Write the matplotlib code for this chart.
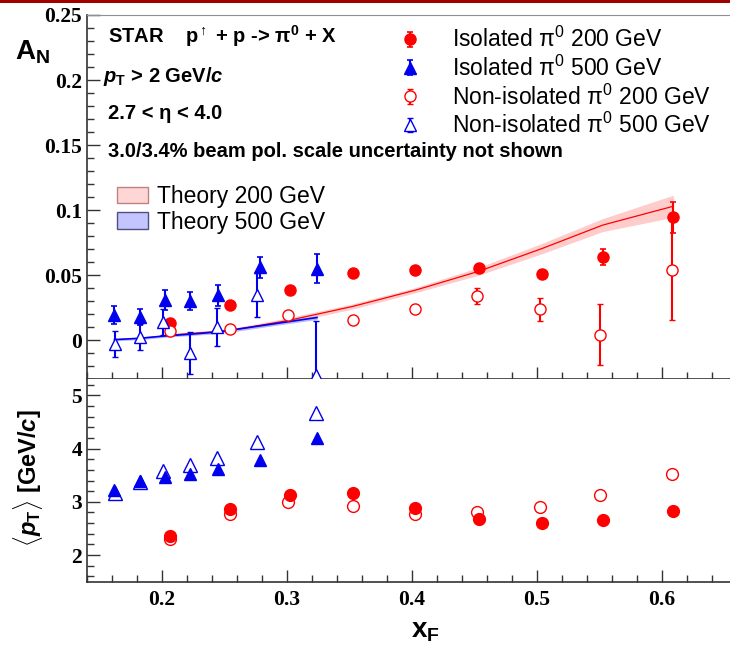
import matplotlib
matplotlib.use("Agg")
import matplotlib.pyplot as plt
from matplotlib.patches import Patch, Rectangle
from matplotlib.ticker import MultipleLocator
from matplotlib.legend_handler import HandlerErrorbar

plt.rcParams['font.family'] = ['Liberation Sans', 'DejaVu Sans']
plt.rcParams['mathtext.fontset'] = 'custom'
plt.rcParams['mathtext.rm'] = 'Liberation Sans'
plt.rcParams['mathtext.it'] = 'Liberation Sans:italic'
plt.rcParams['mathtext.bf'] = 'Liberation Sans:bold'
plt.rcParams['mathtext.bfit'] = 'Liberation Sans:bold:italic'

# ---- data ----
# A_N, isolated pi0 200 GeV
x_iso200 = [0.2066, 0.2546, 0.302, 0.3525, 0.4027, 0.4533, 0.504, 0.5525, 0.609]
an_iso200 = [0.0136, 0.027, 0.0385, 0.0518, 0.0538, 0.0556, 0.0513, 0.064, 0.0944]
an_iso200_err = [0.002, 0.002, 0.002, 0.002, 0.002, 0.003, 0.003, 0.006, 0.012]
# A_N, isolated pi0 500 GeV
x_iso500 = [0.1618, 0.182, 0.202, 0.222, 0.245, 0.278, 0.324]
an_iso500 = [0.0192, 0.018, 0.031, 0.030, 0.0346, 0.056, 0.055]
an_iso500_err = [0.007, 0.006, 0.008, 0.007, 0.008, 0.008, 0.011]
# A_N, non-isolated pi0 200 GeV
x_non200 = [0.206, 0.254, 0.301, 0.3525, 0.402, 0.452, 0.502, 0.5506, 0.608]
an_non200 = [0.0072, 0.009, 0.0192, 0.0154, 0.0244, 0.034, 0.0238, 0.0044, 0.0538]
an_non200_err = [0.002, 0.002, 0.002, 0.002, 0.002, 0.006, 0.009, 0.0235, 0.038]
# A_N, non-isolated pi0 500 GeV
x_non500 = [0.162, 0.182, 0.201, 0.222, 0.244, 0.276, 0.323]
an_non500 = [-0.003, 0.0025, 0.014, -0.0097, 0.010, 0.035, -0.027]
an_non500_err = [0.010, 0.010, 0.010, 0.016, 0.0145, 0.017, 0.042]

# theory curves
x_th200 = [0.2066, 0.2546, 0.302, 0.3525, 0.4027, 0.4533, 0.504, 0.5525, 0.609]
an_th200 = [0.004, 0.0075, 0.0154, 0.026, 0.0385, 0.053, 0.0705, 0.0885, 0.103]
an_th200_err = [0.001, 0.0015, 0.002, 0.002, 0.002, 0.003, 0.004, 0.005, 0.0085]
x_th500 = [0.162, 0.182, 0.202, 0.222, 0.245, 0.278, 0.324]
an_th500 = [0.0005, 0.0015, 0.0033, 0.0046, 0.0064, 0.011, 0.0175]
an_th500_err = [0.001, 0.001, 0.001, 0.001, 0.0012, 0.0013, 0.0015]

# <pT>
pt_iso200 = [2.36, 2.86, 3.13, 3.17, 2.89, 2.67, 2.61, 2.66, 2.83]
pt_non200 = [2.31, 2.77, 2.99, 2.92, 2.77, 2.80, 2.91, 3.13, 3.52]
pt_iso500 = [3.22, 3.39, 3.47, 3.53, 3.61, 3.79, 4.19]
pt_non500 = [3.16, 3.37, 3.58, 3.69, 3.83, 4.12, 4.66]

RED = '#ff0000'
BLUE = '#0000ee'
W, H = 730, 645

fig = plt.figure(figsize=(W / 100, H / 100), dpi=100)
ax1 = fig.add_axes([87 / W, 1 - 379.3 / H, 1 - 87 / W, (379.3 - 15) / H])
ax2 = fig.add_axes([87 / W, 1 - 581.7 / H, 1 - 87 / W, (581.7 - 379.3) / H], sharex=ax1)

# dark red bar at top of the slide
fig.add_artist(Rectangle((0, 1 - 3 / H), 1, 3 / H, transform=fig.transFigure,
                         color='#a00000', lw=0))

# ---- upper panel ----
ax1.fill_between(x_th200, [a - e for a, e in zip(an_th200, an_th200_err)],
                 [a + e for a, e in zip(an_th200, an_th200_err)],
                 color='#ffcccc', lw=0, zorder=1)
ax1.plot(x_th200, an_th200, color=RED, lw=0.9, zorder=2)
ax1.fill_between(x_th500, [a - e for a, e in zip(an_th500, an_th500_err)],
                 [a + e for a, e in zip(an_th500, an_th500_err)],
                 color='#b8b8ff', lw=0, zorder=1)
ax1.plot(x_th500, an_th500, color=BLUE, lw=1.2, zorder=2)

eb = dict(capsize=2, elinewidth=1.5, capthick=1.2, ls='none', zorder=3)
h1 = ax1.errorbar(x_iso200, an_iso200, yerr=an_iso200_err, fmt='o', color=RED,
                  ms=8, **eb)
h2 = ax1.errorbar(x_iso500, an_iso500, yerr=an_iso500_err, fmt='^', color=BLUE,
                  ms=8, **eb)
h3 = ax1.errorbar(x_non200, an_non200, yerr=an_non200_err, fmt='o', color=RED,
                  mfc='white', mec=RED, mew=1, ms=8, **eb)
h4 = ax1.errorbar(x_non500, an_non500, yerr=an_non500_err, fmt='^', color=BLUE,
                  mfc='white', mec=BLUE, mew=1, ms=9, **eb)

ax1.set_xlim(0.14, 0.14 + (W - 87) / 1250)
ax1.set_ylim(-0.03, 0.25)

leg1 = ax1.legend([h1, h2, h3, h4],
                  ['Isolated π$^{0}$ 200 GeV', 'Isolated π$^{0}$ 500 GeV',
                   'Non-isolated π$^{0}$ 200 GeV', 'Non-isolated π$^{0}$ 500 GeV'],
                  loc='upper left', bbox_to_anchor=(399 / W, 1 - 27 / H),
                  bbox_transform=fig.transFigure, frameon=False, fontsize=16.5,
                  handlelength=1.0, handletextpad=1.3, labelspacing=0.15,
                  borderpad=0, borderaxespad=0,
                  handler_map={type(h1): HandlerErrorbar(yerr_size=0.32)})
ax1.add_artist(leg1)

th_handles = [Patch(facecolor='#ffd6d6', edgecolor='#c08080', lw=1),
              Patch(facecolor='#c4c4ff', edgecolor='#505080', lw=1)]
ax1.legend(th_handles, ['Theory 200 GeV', 'Theory 500 GeV'],
           loc='upper left', bbox_to_anchor=(117 / W, 1 - 185 / H),
           bbox_transform=fig.transFigure, frameon=False, fontsize=16.5,
           handlelength=1.35, handleheight=0.75, handletextpad=0.4,
           labelspacing=0.12, borderpad=0, borderaxespad=0)

tx = dict(transform=fig.transFigure, fontsize=14.5, fontweight='bold', ha='left',
          va='baseline')
fig.text(108 / W, 1 - 43 / H, 'STAR    p$^{\\uparrow}$ + p -> π$^{\\mathbf{0}}$ + X', **tx)
fig.text(103 / W, 1 - 82 / H, '$\\mathbfit{p}_{\\mathbf{T}}$ > 2 GeV/$\\mathbfit{c}$', **tx)
fig.text(108 / W, 1 - 119 / H, '2.7 < η < 4.0', **tx)
fig.text(108 / W, 1 - 157 / H, '3.0/3.4% beam pol. scale uncertainty not shown', **tx)

# ---- lower panel ----
ax2.plot(x_non200, pt_non200, 'o', ms=8.5, mfc='white', mec=RED, mew=1, zorder=3)
ax2.plot(x_iso200, pt_iso200, 'o', ms=8.5, color=RED, zorder=4)
ax2.plot(x_non500, pt_non500, '^', ms=9.5, mfc='white', mec=BLUE, mew=1, zorder=3)
ax2.plot(x_iso500, pt_iso500, '^', ms=8.5, color=BLUE, zorder=4)
ax2.set_ylim(1.5, 5.3)

# ---- axes styling ----
for ax in (ax1, ax2):
    ax.spines['right'].set_visible(False)
    ax.spines['top'].set_visible(False)
    for s in ('left', 'bottom'):
        ax.spines[s].set_color('#333333')
        ax.spines[s].set_linewidth(1.2)
    ax.tick_params(which='both', direction='in', top=False, right=False,
                   color='#333333', width=1)
    ax.tick_params(which='major', length=9)
    ax.tick_params(which='minor', length=5)
    ax.xaxis.set_major_locator(MultipleLocator(0.1))
    ax.xaxis.set_minor_locator(MultipleLocator(0.02))

ax1.spines['top'].set_visible(True)
ax1.spines['top'].set_color('#909090')
ax1.yaxis.set_minor_locator(MultipleLocator(0.01))
ax1.set_yticks([0, 0.05, 0.1, 0.15, 0.2, 0.25])
ax1.set_yticklabels(['0', '0.05', '0.1', '0.15', '0.2', '0.25'],
                    fontfamily='Liberation Serif', fontweight='bold', fontsize=15.5)
ax1.tick_params(axis='x', labelbottom=False)
ax2.yaxis.set_minor_locator(MultipleLocator(0.2))
ax2.set_xticks([0.2, 0.3, 0.4, 0.5, 0.6])
ax2.set_xticklabels(['0.2', '0.3', '0.4', '0.5', '0.6'],
                    fontfamily='Liberation Serif', fontweight='bold', fontsize=15.5)
ax2.set_yticks([2, 3, 4, 5])
ax2.set_yticklabels(['2', '3', '4', '5'],
                    fontfamily='Liberation Serif', fontweight='bold', fontsize=15.5)
ax2.tick_params(axis='x', pad=6)

# axis titles
fig.text(15 / W, 1 - 60 / H, '$\\mathbf{A}_{\\mathbf{N}}$', fontsize=20,
         ha='left', va='baseline')
fig.text(411 / W, 1 - 637 / H, '$\\mathbf{x}_{\\mathbf{F}}$', fontsize=20,
         ha='left', va='baseline')
fig.text(28 / W, 1 - 478 / H,
         '$\\langle\\mathbfit{p}_{\\mathbf{T}}\\rangle$ [GeV/$\\mathbfit{c}$]',
         fontsize=17, fontweight='bold', rotation=90, ha='center', va='center')

fig.savefig('out.png', dpi=100)
